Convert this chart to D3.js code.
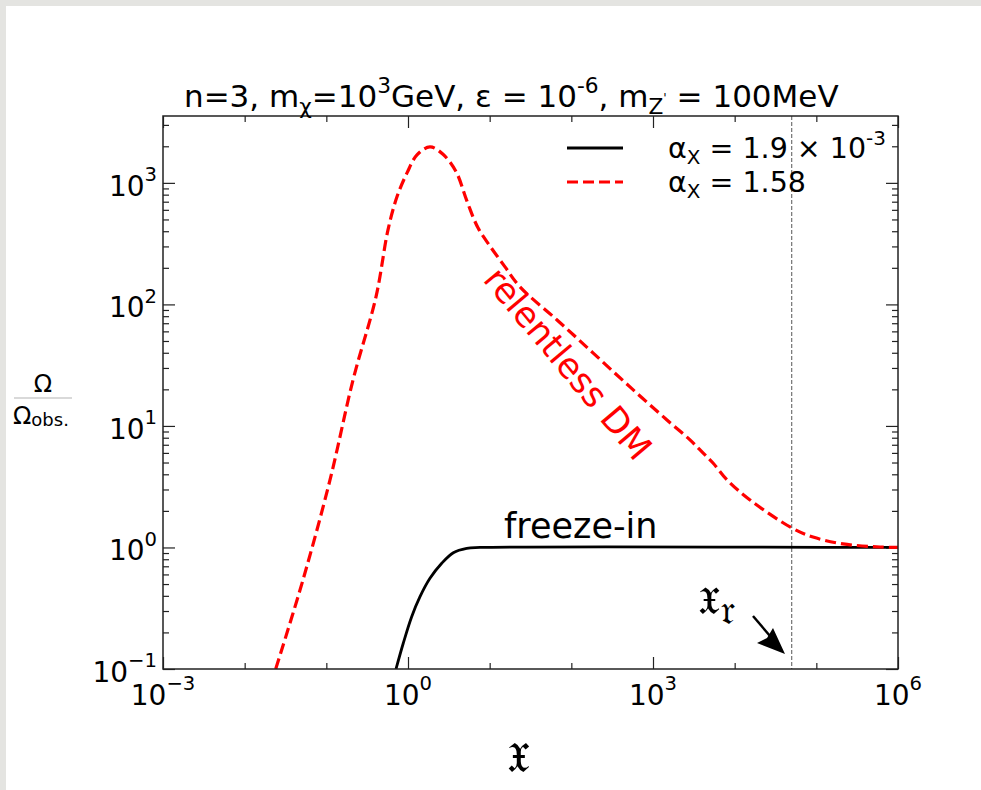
<!DOCTYPE html>
<html>
<head>
<meta charset="utf-8">
<script src="https://cdn.jsdelivr.net/npm/d3@7"></script>
<style>
    body { margin: 0; background: #e4e4e1; }
    #card { position: absolute; left: 6px; top: 6px; width: 975px; height: 784px; background: #fff; }
    svg { position: absolute; left: 0; top: 0; }
    text { font-family: "DejaVu Sans", sans-serif; }
</style>
</head>
<body>
<div id="card"></div>
<div id="plot"></div>
<script>
// values, stored as log10 exponents
const redLogX = [-1.62, -1.286, -0.955, -0.673, -0.392, -0.245, -0.135, -0.012, 0.110, 0.269, 0.429, 0.590, 0.722, 0.857, 1.004, 1.188, 1.371, 1.825, 2.265, 2.718, 3.171, 3.453, 3.612, 3.735, 3.906, 4.188, 4.702, 4.959, 5.326, 5.780, 6.0];
const redLogY = [-1.0, -0.267, 0.556, 1.379, 2.062, 2.613, 2.885, 3.082, 3.230, 3.296, 3.235, 3.090, 2.850, 2.630, 2.480, 2.309, 2.144, 1.872, 1.601, 1.321, 1.049, 0.885, 0.778, 0.695, 0.556, 0.391, 0.160, 0.086, 0.029, 0.004, 0.0];

const blackLogX = [-0.147, -0.058, 0.045, 0.147, 0.269, 0.413, 0.555, 0.719, 0.882, 6.0];
const blackLogY = [-1.0, -0.788, -0.570, -0.405, -0.254, -0.130, -0.043, -0.007, 0.0, 0.0];

const xDomain = [1e-3, 1e6];
const yDomain = [0.1, 3550];
const xMajorTicks = [-3, 0, 3, 6];
const xMinorTicks = [-2, -1, 1, 2, 4, 5];
const yMajorTicks = [-1, 0, 1, 2, 3];
const xR = 5e4;

const legendLabels = [
    [{t: "α"}, {t: "X", k: "sub"}, {t: " = 1.9 × 10"}, {t: "-3", k: "sup"}],
    [{t: "α"}, {t: "X", k: "sub"}, {t: " = 1.58"}]
];
const titleParts = [
    {t: "n=3, m"}, {t: "χ", k: "sub"}, {t: "=10"}, {t: "3", k: "sup"},
    {t: "GeV, ε = 10"}, {t: "-6", k: "sup"}, {t: ", m"}, {t: "Z", k: "sub"}, {t: "'", k: "sup2"}, {t: " = 100MeV"}
];

class RelicPlot {
    constructor(parentElement) {
        this.parentElement = parentElement;
        this.initVis();
    }

    initVis() {
        let vis = this;

        vis.width = 981;
        vis.height = 790;
        vis.margin = {left: 163, right: 83, top: 116, bottom: 121};
        vis.w = vis.width - vis.margin.left - vis.margin.right;
        vis.h = vis.height - vis.margin.top - vis.margin.bottom;

        vis.svg = d3.select("#" + vis.parentElement).append("svg")
            .attr("width", vis.width)
            .attr("height", vis.height);

        vis.x = d3.scaleLog().domain(xDomain).range([vis.margin.left, vis.margin.left + vis.w]);
        vis.y = d3.scaleLog().domain(yDomain).range([vis.margin.top + vis.h, vis.margin.top]);

        vis.svg.append("clipPath").attr("id", "clip")
            .append("rect")
            .attr("x", vis.margin.left).attr("y", vis.margin.top)
            .attr("width", vis.w).attr("height", vis.h);

        vis.updateVis();
    }

    // writes text with sub/superscripts as tspans
    rich(sel, parts, fs, supRaise) {
        let shift = 0;
        parts.forEach(p => {
            let target = 0, size = fs;
            if (p.k === "sup") { target = -supRaise * fs; size = fs * 0.7; }
            if (p.k === "sub") { target = 0.22 * fs; size = fs * 0.7; }
            if (p.k === "sup2") { target = -0.15 * fs; size = fs * 0.4; }
            sel.append("tspan")
                .attr("dy", target - shift)
                .style("font-size", size + "px")
                .text(p.t);
            shift = target;
        });
    }

    updateVis() {
        let vis = this;
        let x0 = vis.margin.left, x1 = vis.margin.left + vis.w;
        let y0 = vis.margin.top, y1 = vis.margin.top + vis.h;

        // minor y ticks 2..9 per decade
        let yMinor = [];
        for (let e = -1; e <= 3; e++) {
            for (let m = 2; m <= 9; m++) {
                let v = m * Math.pow(10, e);
                if (v < yDomain[1]) yMinor.push(v);
            }
        }
        let xMaj = xMajorTicks.map(e => Math.pow(10, e));
        let xMin = xMinorTicks.map(e => Math.pow(10, e));
        let yMaj = yMajorTicks.map(e => Math.pow(10, e));

        let axes = vis.svg.append("g").attr("class", "ticks");
        let addAxis = (axis, tx, ty) => {
            let g = axes.append("g").attr("transform", `translate(${tx},${ty})`).call(axis);
            g.select(".domain").remove();
            g.selectAll("line").attr("stroke", "#222").attr("stroke-width", 1.2);
        };
        addAxis(d3.axisBottom(vis.x).tickValues(xMaj).tickSize(-12).tickFormat(""), 0, y1);
        addAxis(d3.axisBottom(vis.x).tickValues(xMin).tickSize(-6).tickFormat(""), 0, y1);
        addAxis(d3.axisTop(vis.x).tickValues(xMaj).tickSize(-12).tickFormat(""), 0, y0);
        addAxis(d3.axisTop(vis.x).tickValues(xMin).tickSize(-6).tickFormat(""), 0, y0);
        addAxis(d3.axisLeft(vis.y).tickValues(yMaj).tickSize(-12).tickFormat(""), x0, 0);
        addAxis(d3.axisLeft(vis.y).tickValues(yMinor).tickSize(-6).tickFormat(""), x0, 0);
        addAxis(d3.axisRight(vis.y).tickValues(yMaj).tickSize(-12).tickFormat(""), x1, 0);
        addAxis(d3.axisRight(vis.y).tickValues(yMinor).tickSize(-6).tickFormat(""), x1, 0);

        // tick labels
        xMajorTicks.forEach(e => {
            let t = vis.svg.append("text")
                .attr("x", vis.x(Math.pow(10, e)))
                .attr("y", y1 + 36)
                .attr("text-anchor", "middle")
                .style("font-size", "28px");
            vis.rich(t, [{t: "10"}, {t: e < 0 ? "\u2212" + (-e) : String(e), k: "sup"}], 28, 0.53);
        });
        yMajorTicks.forEach(e => {
            let t = vis.svg.append("text")
                .attr("x", x0 - 6)
                .attr("y", vis.y(Math.pow(10, e)) + 13)
                .attr("text-anchor", "end")
                .style("font-size", "28px");
            vis.rich(t, [{t: "10"}, {t: e < 0 ? "\u2212" + (-e) : String(e), k: "sup"}], 28, 0.53);
        });

        // curves
        let line = d3.line()
            .x(d => vis.x(Math.pow(10, d[0])))
            .y(d => vis.y(Math.pow(10, d[1])))
            .curve(d3.curveCatmullRom.alpha(0.5));

        let plot = vis.svg.append("g").attr("clip-path", "url(#clip)");

        plot.append("line")
            .attr("x1", vis.x(xR)).attr("x2", vis.x(xR))
            .attr("y1", y0).attr("y2", y1)
            .attr("stroke", "#555")
            .attr("stroke-width", 1)
            .attr("stroke-dasharray", "4,2");

        plot.append("path")
            .datum(d3.zip(blackLogX, blackLogY))
            .attr("d", line)
            .attr("fill", "none")
            .attr("stroke", "#000")
            .attr("stroke-width", 2.8);

        plot.append("path")
            .datum(d3.zip(redLogX, redLogY))
            .attr("d", line)
            .attr("fill", "none")
            .attr("stroke", "#ff0000")
            .attr("stroke-width", 3.2)
            .attr("stroke-dasharray", "11,5");

        // frame
        vis.svg.append("rect")
            .attr("x", x0).attr("y", y0)
            .attr("width", vis.w).attr("height", vis.h)
            .attr("fill", "none")
            .attr("stroke", "#222")
            .attr("stroke-width", 1.5);

        // legend
        let leg = vis.svg.append("g");
        leg.append("line")
            .attr("x1", 567).attr("x2", 623).attr("y1", 148).attr("y2", 148)
            .attr("stroke", "#000").attr("stroke-width", 2.8);
        leg.append("line")
            .attr("x1", 567).attr("x2", 623).attr("y1", 182).attr("y2", 182)
            .attr("stroke", "#ff0000").attr("stroke-width", 3.2)
            .attr("stroke-dasharray", "11,5");
        legendLabels.forEach((parts, i) => {
            let t = leg.append("text")
                .attr("x", 668).attr("y", 158 + i * 34)
                .style("font-size", "28.5px");
            vis.rich(t, parts, 28.5, 0.45);
        });

        // title
        let title = vis.svg.append("text")
            .attr("x", 184).attr("y", 107)
            .style("font-size", "31px");
        vis.rich(title, titleParts, 31, 0.45);

        // annotations
        vis.svg.append("text")
            .attr("x", 504).attr("y", 538)
            .style("font-size", "35px")
            .text("freeze-in");

        vis.svg.append("text")
            .attr("transform", "translate(482,280) rotate(50)")
            .attr("fill", "#ff0000")
            .style("font-size", "35px")
            .text("relentless DM");

        // x_r marker
        let xr = vis.svg.append("text")
            .attr("x", 698).attr("y", 614)
            .style("font-family", "'DejaVu Serif', serif")
            .style("font-size", "56px");
        xr.append("tspan").text("\u{1D535}");
        xr.append("tspan").attr("dy", 10).style("font-size", "40px").text("\u{1D52F}");

        vis.svg.append("line")
            .attr("x1", 753).attr("y1", 616).attr("x2", 770).attr("y2", 636)
            .attr("stroke", "#000").attr("stroke-width", 2.5);
        vis.svg.append("path")
            .attr("d", "M785,654 L757,643 L767,638 L773,628 Z")
            .attr("fill", "#000");

        // axis labels
        vis.svg.append("text")
            .attr("x", 518).attr("y", 772)
            .attr("text-anchor", "middle")
            .style("font-family", "'DejaVu Serif', serif")
            .style("font-size", "58px")
            .text("\u{1D535}");

        let yl = vis.svg.append("g");
        yl.append("text")
            .attr("x", 43).attr("y", 392)
            .attr("text-anchor", "middle")
            .style("font-size", "24px")
            .text("Ω");
        yl.append("line")
            .attr("x1", 14).attr("x2", 72).attr("y1", 398).attr("y2", 398)
            .attr("stroke", "#ccc").attr("stroke-width", 1.5);
        let ob = yl.append("text")
            .attr("x", 13).attr("y", 424)
            .style("font-size", "24px");
        ob.append("tspan").text("Ω");
        ob.append("tspan").attr("dy", 2).style("font-size", "18px").text("obs.");
    }
}

new RelicPlot("plot");
</script>
</body>
</html>
